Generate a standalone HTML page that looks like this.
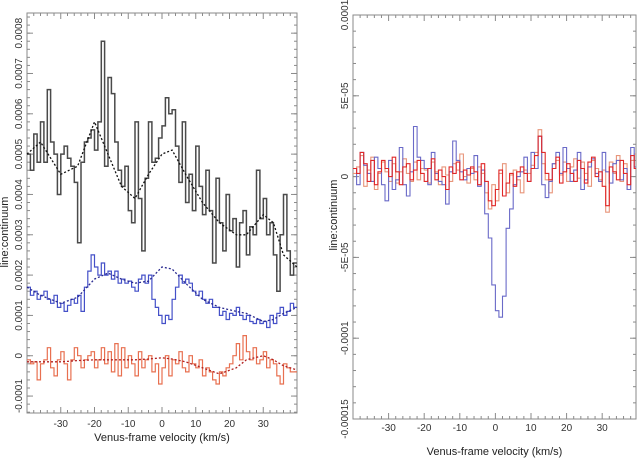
<!DOCTYPE html>
<html><head><meta charset="utf-8"><style>
body{margin:0;background:#fff;}
svg{display:block;font-family:"Liberation Sans",sans-serif;}
</style></head><body>
<svg id="chart" width="640" height="463" xmlns="http://www.w3.org/2000/svg"></svg>
<script>
// ----- data (left panel, units of 1e-4; bins of 1 km/s starting at -40) -----
const binStart = -40;
const leftBlack = [5.0,4.6,5.5,4.8,5.8,4.8,6.6,5.3,5.0,4.0, 5.0,5.2,4.9,4.7,4.3,2.8,4.8,5.3,5.4,5.6, 5.1,5.8,7.8,4.7,6.9,6.5,5.3,4.6,4.2,4.7, 3.6,3.3,5.8,3.9,2.6,4.4,5.8,4.8,4.9,5.4, 5.7,6.4,6.0,6.1,5.2,4.3,5.8,3.8,4.5,3.6, 5.2,4.2,3.5,4.6,3.6,2.3,4.4,3.3,2.6,4.0, 3.1,3.4,2.2,3.3,3.6,2.5,3.2,3.0,4.6,3.4, 3.9,3.0,3.3,2.5,1.6,3.0,4.0,2.6,2.0,2.3];
const leftBlue = [1.7,1.5,1.6,1.4,1.5,1.6,1.4,1.3,1.5,1.2, 1.3,1.1,1.25,1.4,1.3,1.5,1.1,1.7,2.1,2.5, 2.2,2.0,2.3,2.0,2.1,1.9,2.1,1.8,1.9,1.8, 1.85,1.7,1.6,1.9,2.0,1.8,2.0,1.4,1.2,1.0, 0.8,1.0,0.9,1.4,1.7,2.0,1.8,1.9,1.8,1.6, 1.5,1.6,1.4,1.3,1.4,1.2,1.2,1.0,1.1,0.9, 1.05,1.0,1.2,1.0,0.9,1.0,0.85,0.8,0.9,0.8, 0.85,0.7,1.0,0.8,1.05,1.2,1.0,1.1,1.3,1.2];
const leftRed = [-0.1,-0.2,-0.15,-0.6,-0.2,-0.1,0.2,-0.3,-0.5,-0.1, 0.1,-0.2,-0.6,-0.1,0.2,0.0,-0.3,-0.1,0.0,0.1, -0.3,-0.1,0.2,-0.2,0.1,-0.4,0.3,-0.5,0.2,-0.3, 0.0,-0.2,-0.5,0.1,-0.3,-0.1,0.0,-0.4,-0.2,-0.7, -0.3,0.0,-0.5,-0.1,-0.2,0.1,-0.3,-0.4,0.0,-0.2, -0.3,-0.1,-0.5,-0.3,-0.4,-0.6,-0.7,-0.4,-0.5,-0.3, -0.2,0.0,0.3,-0.1,0.5,0.1,-0.1,0.2,-0.2,-0.1, 0.1,-0.3,-0.1,-0.2,-0.5,-0.7,-0.2,-0.3,-0.4,-0.4];
// model fits (velocity, value)
const fitV = [-40,-36,-30,-25,-20,-16,-12,-8,-4,0,3,7,12,17,22,25,30,33,36,40];
const fitBlack = [5.0,5.3,4.5,4.7,5.8,5.0,4.2,3.9,4.5,5.0,5.1,4.5,3.8,3.3,3.0,3.0,3.5,3.3,2.5,2.2];
const fitBlue = [1.7,1.5,1.3,1.45,1.9,2.05,1.9,1.8,1.85,2.2,2.15,1.8,1.4,1.2,1.1,1.05,0.85,0.9,1.05,1.2];
const fitRed = [-0.15,-0.15,-0.15,-0.12,-0.1,-0.1,-0.1,-0.1,-0.08,-0.05,-0.08,-0.15,-0.3,-0.45,-0.3,-0.1,0.0,-0.1,-0.25,-0.35];
// ----- data (right panel, units of 1e-5) -----
const rightBlue = [0.5,-0.5,1.5,0.7,0.2,-0.3,1.2,0.5,-0.5,-1.5, 1.0,-0.8,-0.2,1.8,-0.5,-1.2,0.3,3.1,1.2,1.0, 0.5,-0.5,1.5,0.2,-0.3,-0.5,-1.7,0.3,2.2,1.0, 0.3,-0.2,0.5,0.2,1.3,-0.6,0.4,-2.3,-3.8,-6.7, -8.3,-8.7,-7.4,-3.2,-2.0,-0.5,0.0,0.3,1.2,-0.3, 1.5,0.5,2.5,-0.5,-1.3,-0.3,0.8,1.5,0.2,1.8, 0.5,-0.3,0.4,1.5,-0.8,-0.2,0.6,1.1,0.2,-0.3, 1.5,0.3,-0.4,0.8,1.0,-0.2,0.5,-0.8,1.8,0.6];
const rightRed = [0.5,0.2,1.5,0.8,-0.3,1.0,-0.5,0.3,1.0,0.5, 0.0,1.2,0.3,-0.5,0.6,0.8,-0.2,0.4,1.0,0.2, -0.3,0.5,1.1,-0.2,0.4,0.0,-0.8,0.6,0.2,0.9, -0.2,0.4,0.1,0.6,0.3,-0.5,0.8,-0.3,-1.5,-1.8, -0.8,0.4,-1.2,-0.4,0.2,-0.6,0.3,0.6,0.2,-0.3, 0.5,1.3,2.5,1.5,0.2,-0.2,0.5,1.2,-0.4,0.3, 0.8,0.2,-0.3,1.0,0.5,-0.4,0.9,1.2,0.0,0.3, -0.6,-1.8,0.6,0.3,-0.2,1.0,0.2,-0.5,1.3,0.5];
const rightOrange = [0.2,0.6,1.3,-0.6,0.4,1.2,-0.8,0.2,0.9,0.3, -0.3,0.8,-0.4,0.3,1.1,0.2,-0.3,0.9,-0.2,0.5, 0.4,-0.4,0.9,0.3,-0.5,0.6,0.1,-0.3,0.8,0.4, 1.4,0.0,-0.4,0.5,-0.2,0.6,0.2,-1.0,-2.0,-0.5, -1.5,0.2,0.8,-1.0,0.1,0.4,-0.2,-1.0,0.4,0.2, 0.7,1.5,2.9,0.8,-0.2,-1.0,0.8,1.0,0.1,0.9, -0.3,0.6,1.1,-0.1,0.9,0.2,-0.6,1.0,0.5,-0.2, 0.4,-2.2,0.9,0.2,1.3,-0.3,0.8,-0.8,1.0,1.4];
const xTicks = [-30,-20,-10,0,10,20,30];
const leftYTicks = [-1,0,1,2,3,4,5,6,7,8];
const leftYLabels = ["-0.0001","0","0.0001","0.0002","0.0003","0.0004","0.0005","0.0006","0.0007","0.0008"];
const rightYTicks = [-15,-10,-5,0,5,10];
const rightYLabels = ["-0.00015","-0.0001","-5E-05","0","5E-05","0.0001"];

const svg = document.getElementById('chart');
const NS = 'http://www.w3.org/2000/svg';
function mk(tag, attrs, parent){const e=document.createElementNS(NS,tag);for(const k in attrs)e.setAttribute(k,attrs[k]);(parent||svg).appendChild(e);return e;}

function panel(name, box, xmin, xmax, ymin, ymax, yTicks, yLabels, yMinorStep, ytitleX){
  const g = mk('g',{});
  
  
  const sx = v => box.x0 + (v - xmin) / (xmax - xmin) * (box.x1 - box.x0);
  const sy = v => box.y1 - (v - ymin) / (ymax - ymin) * (box.y1 - box.y0);
  const fr = mk('rect',{x:box.x0,y:box.y0,width:box.x1-box.x0,height:box.y1-box.y0,fill:'none',stroke:'#8a8a8a','stroke-width':1},g);
  
  
  for(let v=-38; v<=xmax; v+=2){
    const major = v%10===0;
    const L = major?6:3;
    mk('line',{x1:sx(v),x2:sx(v),y1:box.y1,y2:box.y1-L,stroke:'#8a8a8a'},g);
    mk('line',{x1:sx(v),x2:sx(v),y1:box.y0,y2:box.y0+L,stroke:'#8a8a8a'},g);
  }
  xTicks.forEach(v=>{
    const t = mk('text',{x:sx(v),y:box.y1+box.tlOff,'font-size':10,'text-anchor':'middle',fill:'#333'},g);
    t.textContent = v;
    
    
  });
  for(let v=Math.ceil(ymin/yMinorStep)*yMinorStep; v<=ymax+1e-9; v+=yMinorStep){
    mk('line',{x1:box.x0,x2:box.x0+3,y1:sy(v),y2:sy(v),stroke:'#8a8a8a'},g);
    mk('line',{x1:box.x1,x2:box.x1-3,y1:sy(v),y2:sy(v),stroke:'#8a8a8a'},g);
  }
  yTicks.forEach((v,i)=>{
    mk('line',{x1:box.x0,x2:box.x0+6,y1:sy(v),y2:sy(v),stroke:'#8a8a8a'},g);
    mk('line',{x1:box.x1,x2:box.x1-6,y1:sy(v),y2:sy(v),stroke:'#8a8a8a'},g);
    const tx = box.x0-5, ty = sy(v);
    const t = mk('text',{x:tx,y:ty,'font-size':10,'text-anchor':'middle',fill:'#333',transform:`rotate(-90 ${tx} ${ty})`},g);
    t.textContent = yLabels[i];
    
    
  });
  const yt = mk('text',{x:ytitleX,y:box.ytC,'font-size':11,'text-anchor':'middle',fill:'#222',transform:`rotate(-90 ${ytitleX} ${box.ytC})`},g);
  yt.textContent = 'line:continuum';
  
  
  const xt = mk('text',{x:(box.x0+box.x1)/2,y:box.y1+box.xtOff,'font-size':11,'text-anchor':'middle',fill:'#222'},g);
  xt.textContent = 'Venus-frame velocity (km/s)';
  
  
  return {g,sx,sy};
}

function stepSeries(p, vals, color, name, w, box){
  let d='';
  vals.forEach((v,i)=>{
    const xa = Math.max(binStart+i, -40), xb = Math.min(binStart+i+1, box.xmax);
    if(xa>=box.xmax) return;
    const y = p.sy(v);
    d += (i===0?'M':'L') + p.sx(xa).toFixed(1)+','+y.toFixed(1)+'L'+p.sx(xb).toFixed(1)+','+y.toFixed(1);
  });
  const path = mk('path',{d:d,fill:'none',stroke:color,'stroke-width':w},p.g);
  
  
}
function fitSeries(p, xs, ys, color, name){
  const d = xs.map((x,i)=>(i?'L':'M')+p.sx(x).toFixed(1)+','+p.sy(ys[i]).toFixed(1)).join('');
  const path = mk('path',{d:d,fill:'none',stroke:color,'stroke-width':1.3,'stroke-dasharray':'2,2'},p.g);
  
  
}

const lbox = {x0:27,x1:297,y0:13,y1:413,xtOff:28,tlOff:14,xmax:40,ytC:232};
const L = panel('left-panel', lbox, -40, 40, -1.42, 8.5, leftYTicks, leftYLabels, 0.2, 8);
stepSeries(L, leftBlack, '#4a4a4a', 'black-spectrum', 1.5, lbox);
stepSeries(L, leftBlue, '#4450c8', 'blue-spectrum', 1.2, lbox);
stepSeries(L, leftRed, '#e87050', 'red-spectrum', 1.2, lbox);
fitSeries(L, fitV, fitBlack, '#111', 'black-fit');
fitSeries(L, fitV, fitBlue, '#2a2a90', 'blue-fit');
fitSeries(L, fitV, fitRed, '#b02020', 'red-fit');

const rbox = {x0:353,x1:636,y0:15,y1:419,xtOff:36,tlOff:12,xmax:39.5,ytC:215};
const R = panel('right-panel', rbox, -40, 39.5, -15, 10, rightYTicks, rightYLabels, 1, 337);
stepSeries(R, rightOrange, '#e8957a', 'orange-spectrum', 1.1, rbox);
stepSeries(R, rightBlue, '#6a6ac8', 'blue-spectrum-right', 1.1, rbox);
stepSeries(R, rightRed, '#e02828', 'red-spectrum-right', 1.1, rbox);
</script>
</body></html>
